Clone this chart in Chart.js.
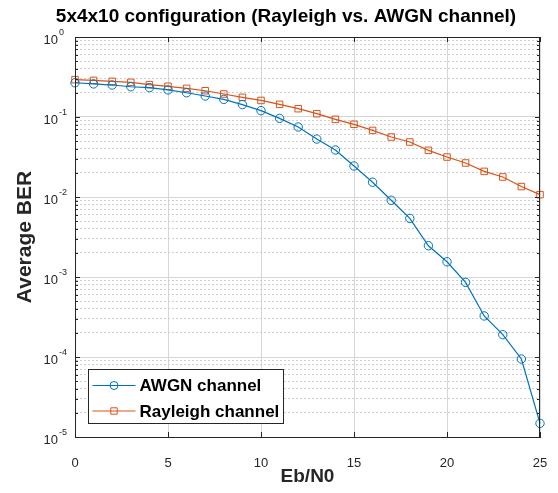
<!DOCTYPE html>
<html>
<head>
<meta charset="utf-8">
<script src="https://cdn.jsdelivr.net/npm/chart.js@4"></script>
<style>
  html, body { margin: 0; padding: 0; background: #fff; }
  #wrap { width: 558px; height: 493px; }
</style>
</head>
<body>
<div id="wrap"><canvas id="berChart" width="558" height="493"></canvas></div>
<script>
// Eb/N0 in dB
var ebn0 = [0, 1, 2, 3, 4, 5, 6, 7, 8, 9, 10, 11, 12, 13, 14, 15, 16, 17, 18, 19, 20, 21, 22, 23, 24, 25];

var awgnBer = [0.268, 0.259, 0.251, 0.239, 0.233, 0.218, 0.201, 0.183, 0.166, 0.143,
  0.120, 0.0962, 0.075, 0.053, 0.0387, 0.0244, 0.0153, 0.0091, 0.0054, 0.00246,
  0.00155, 0.000857, 0.000326, 0.00019, 0.0000944, 0.0000148];

var rayleighBer = [0.293, 0.287, 0.279, 0.271, 0.254, 0.242, 0.228, 0.213, 0.194, 0.176,
  0.161, 0.144, 0.127, 0.110, 0.0935, 0.081, 0.068, 0.0562, 0.0487, 0.0383,
  0.0316, 0.0266, 0.0209, 0.0178, 0.0135, 0.0107];

var seriesLabels = ['AWGN channel', 'Rayleigh channel'];
var yExponents = [0, -1, -2, -3, -4, -5];
var xTicks = [0, 5, 10, 15, 20, 25];
var titleText = '5x4x10 configuration (Rayleigh vs. AWGN channel)';

var FONT = '"Liberation Sans", Arial, sans-serif';
var INK = '#262626';

var isDecade = (v) => {
    var l = Math.log10(v);
    return Math.abs(l - Math.round(l)) < 1e-9;
};

var toPoints = (ys) => ebn0.map((x, i) => ({ x: x, y: ys[i] }));

// title, box, inner ticks, superscript y labels, legend
var matlabLook = {
    id: 'matlabLook',
    afterDraw: (chart) => {
        var ctx = chart.ctx;
        var a = chart.chartArea;
        var xs = chart.scales.x, ys = chart.scales.y;
        ctx.save();

        // box
        ctx.strokeStyle = INK;
        ctx.lineWidth = 1;
        ctx.strokeRect(a.left + 0.5, a.top + 0.5, a.right - a.left - 1, a.bottom - a.top);

        // inner tick marks
        ctx.beginPath();
        ys.ticks.forEach((t) => {
            var py = Math.round(ys.getPixelForValue(t.value)) + 0.5;
            var len = isDecade(t.value) ? 5 : 3;
            ctx.moveTo(a.left, py); ctx.lineTo(a.left + len, py);
            ctx.moveTo(a.right, py); ctx.lineTo(a.right - len, py);
        });
        xTicks.forEach((v) => {
            var px = Math.round(xs.getPixelForValue(v)) + 0.5;
            ctx.moveTo(px, a.bottom); ctx.lineTo(px, a.bottom - 5);
            ctx.moveTo(px, a.top); ctx.lineTo(px, a.top + 5);
        });
        ctx.stroke();

        // y tick labels as 10^n
        ctx.fillStyle = INK;
        ctx.textBaseline = 'middle';
        yExponents.forEach((e) => {
            var py = ys.getPixelForValue(Math.pow(10, e));
            ctx.font = '13px ' + FONT;
            ctx.textAlign = 'right';
            ctx.fillText('10', 58, py + 3);
            ctx.font = '9px ' + FONT;
            ctx.textAlign = 'left';
            ctx.fillText(String(e), 59, py - 4);
        });

        // title
        ctx.font = 'bold 19px ' + FONT;
        ctx.textAlign = 'center';
        ctx.fillStyle = '#000';
        ctx.fillText(titleText, 286, 17);

        // legend
        var lx = 88.5, ly = 369.5, lw = 195, lh = 54;
        ctx.fillStyle = '#fff';
        ctx.fillRect(lx, ly, lw, lh);
        ctx.strokeStyle = INK;
        ctx.strokeRect(lx, ly, lw, lh);
        chart.data.datasets.forEach((ds, i) => {
            var cy = ly + 16 + i * 25.5;
            ctx.strokeStyle = ds.borderColor;
            ctx.lineWidth = 1.2;
            ctx.beginPath();
            ctx.moveTo(lx + 4, cy); ctx.lineTo(lx + 47, cy);
            ctx.stroke();
            ctx.lineWidth = 1;
            ctx.beginPath();
            if (ds.pointStyle === 'rect') {
                ctx.rect(lx + 25.5 - 3.2, cy - 3.2, 6.4, 6.4);
            } else {
                ctx.arc(lx + 25.5, cy, 4, 0, Math.PI * 2);
            }
            ctx.stroke();
            ctx.fillStyle = '#000';
            ctx.font = 'bold 17px ' + FONT;
            ctx.textAlign = 'left';
            ctx.fillText(ds.label, lx + 51, cy + 1);
        });
        ctx.restore();
    }
};

var genBerChart = () => {
    new Chart(document.getElementById('berChart'), {
        type: 'line',
        data: {
            datasets: [{
                label: seriesLabels[0],
                data: toPoints(awgnBer),
                borderColor: '#0072BD',
                backgroundColor: 'rgba(0,0,0,0)',
                borderWidth: 1.2,
                pointStyle: 'circle',
                pointRadius: 4.2,
                pointBorderWidth: 1,
                pointBackgroundColor: 'rgba(0,0,0,0)',
                tension: 0,
                clip: false
            }, {
                label: seriesLabels[1],
                data: toPoints(rayleighBer),
                borderColor: '#D95319',
                backgroundColor: 'rgba(0,0,0,0)',
                borderWidth: 1.2,
                pointStyle: 'rect',
                pointRadius: 4.6,
                pointBorderWidth: 1,
                pointBackgroundColor: 'rgba(0,0,0,0)',
                tension: 0,
                clip: false
            }]
        },
        options: {
            responsive: false,
            animation: false,
            layout: { padding: { top: 37, right: 18, left: 0, bottom: 0 } },
            plugins: {
                legend: { display: false },
                title: { display: false },
                tooltip: { enabled: false }
            },
            scales: {
                x: {
                    type: 'linear',
                    min: 0,
                    max: 25,
                    afterFit: (s) => { s.height = 56; s.paddingLeft = 0; s.paddingRight = 0; },
                    afterBuildTicks: (s) => { s.ticks = xTicks.map((v) => ({ value: v })); },
                    grid: { color: '#d6d6d6', drawTicks: false },
                    border: { color: INK },
                    ticks: {
                        padding: 19,
                        color: INK,
                        font: { family: FONT, size: 13 }
                    },
                    title: {
                        display: true,
                        text: 'Eb/N0',
                        color: INK,
                        font: { family: FONT, size: 19, weight: 'bold' },
                        padding: { bottom: 5, top: 0 }
                    }
                },
                y: {
                    type: 'logarithmic',
                    min: 1e-5,
                    max: 1,
                    afterFit: (s) => { s.width = 75; s.paddingTop = 0; s.paddingBottom = 0; },
                    afterBuildTicks: (s) => {
                        var t = [];
                        yExponents.slice().reverse().forEach((e) => {
                            for (var m = 1; m <= 9; m++) {
                                if (e === 0 && m > 1) break;
                                t.push({ value: m * Math.pow(10, e), major: m === 1 });
                            }
                        });
                        s.ticks = t;
                    },
                    grid: {
                        drawTicks: false,
                        color: (c) => (c.tick && !isDecade(c.tick.value)) ? '#cfcfcf' : '#d6d6d6'
                    },
                    border: {
                        color: INK,
                        dash: (c) => (c.tick && !isDecade(c.tick.value)) ? [2, 2] : []
                    },
                    ticks: { display: false },
                    title: {
                        display: true,
                        text: 'Average BER',
                        color: INK,
                        font: { family: FONT, size: 21, weight: 'bold' },
                        padding: { top: 13, bottom: 0 }
                    }
                }
            }
        },
        plugins: [matlabLook]
    });
};

genBerChart();
</script>
</body>
</html>
